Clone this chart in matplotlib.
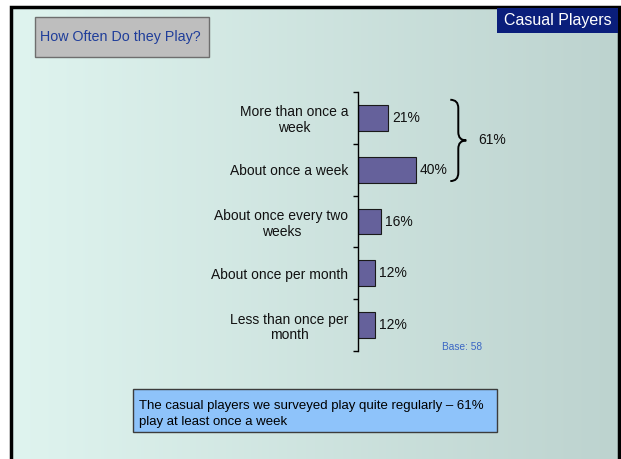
import numpy as np
import matplotlib
matplotlib.use("Agg")
import matplotlib.pyplot as plt
from matplotlib.patches import Rectangle, PathPatch
from matplotlib.path import Path

# ── data ──────────────────────────────────────────────────────────────────────
categories = [
    "More than once a\nweek",
    "About once a week",
    "About once every two\nweeks",
    "About once per month",
    "Less than once per\nmonth",
]
values = [21, 40, 16, 12, 12]
base_n = 58
title = "How Often Do they Play?"
tag = "Casual Players"

weekly_total = values[0] + values[1]
summary = (f"The casual players we surveyed play quite regularly \u2013 {weekly_total}%\n"
           "play at least once a week")

FONT = ["Liberation Sans", "DejaVu Sans"]
plt.rcParams["font.family"] = FONT

W, H = 621, 459
fig = plt.figure(figsize=(W / 100, H / 100), dpi=100)
fig.patch.set_facecolor("white")

# ── slide background (pixel coordinates) ───────────────────────────────────────
bg = fig.add_axes([0, 0, 1, 1])
bg.set_xlim(0, W)
bg.set_ylim(H, 0)
bg.set_axis_off()

c_left = np.array([223, 244, 239]) / 255
c_right = np.array([189, 211, 207]) / 255
t = np.linspace(0, 1, 256)
grad = c_left[None, :] * (1 - t[:, None]) + c_right[None, :] * t[:, None]
bg.imshow(grad[None, :, :], aspect="auto", extent=[11, 619, H, 7], zorder=0)

# black frame: left, top, right
bg.plot([11, 11, 619, 619], [H, 7, 7, H], color="black", lw=2.5,
        solid_joinstyle="miter", zorder=1)

# title box
bg.add_patch(Rectangle((35, 17), 174, 40, fc="#BEBEBE", ec="#6E6E6E", lw=1, zorder=2))
bg.text(40, 37.5, title, color="#1F3D9A", fontsize=10.3, va="center", ha="left", zorder=3)

# tag box top right
bg.add_patch(Rectangle((497, 8), 121, 25, fc="#0A1E7B", ec="none", zorder=2))
bg.text(558, 21, tag, color="white", fontsize=11.5, va="center", ha="center", zorder=3)

# summary box
bg.add_patch(Rectangle((133, 389), 364, 43, fc="#8EC3FA", ec="#3C3C3C", lw=1, zorder=2))
bg.text(139, 414, summary, color="black", fontsize=9.5, va="center", ha="left",
        linespacing=1.45, zorder=3)

# ── bar chart ─────────────────────────────────────────────────────────────────
px_per_unit = 1.44
ax = fig.add_axes([358 / W, 1 - 351 / H, 100 * px_per_unit / W, 259 / H])
ax.patch.set_visible(False)

pos = np.arange(len(values))
ax.barh(pos, values, height=0.5, color="#65619B", edgecolor="#1A1A1A", lw=0.8)
ax.set_ylim(len(values) - 0.5, -0.5)
ax.set_xlim(0, 100)

for s in ["top", "right", "bottom"]:
    ax.spines[s].set_visible(False)
ax.spines["left"].set_color("black")
ax.spines["left"].set_linewidth(1)

ax.set_xticks([])
ax.set_yticks(pos, categories, fontsize=10, color="#111111")
ax.set_yticks(np.arange(len(values) + 1) - 0.5, minor=True)
ax.tick_params(axis="y", which="major", length=0, pad=7)
ax.tick_params(axis="y", which="minor", length=3.5, width=1, direction="out")
for lbl in ax.get_yticklabels():
    lbl.set_multialignment("center")
    lbl.set_linespacing(1.15)

for i, v in enumerate(values):
    ax.text(v + 2.7, i, f"{v}%", va="center", ha="left", fontsize=10, color="#111111")

# brace around the first two bars
x0, xt = 64.1, 75.2
y_top, y_bot = -0.35, 1.22
y_mid = (y_top + y_bot) / 2
xm = (x0 + xt) / 2
r = 0.16
verts = [
    (x0, y_top), (xm, y_top), (xm, y_top + r),
    (xm, y_mid - r), (xm, y_mid), (xt, y_mid),
    (xm, y_mid), (xm, y_mid + r),
    (xm, y_bot - r), (xm, y_bot), (x0, y_bot),
]
codes = [Path.MOVETO, Path.CURVE3, Path.CURVE3,
         Path.LINETO, Path.CURVE3, Path.CURVE3,
         Path.CURVE3, Path.CURVE3,
         Path.LINETO, Path.CURVE3, Path.CURVE3]
ax.add_patch(PathPatch(Path(verts, codes), fc="none", ec="black", lw=1.4, clip_on=False))
ax.text(83.4, y_mid, f"{weekly_total}%", va="center", ha="left", fontsize=10,
        color="#111111", clip_on=False)

ax.text(58.6, 4.42, f"Base: {base_n}", va="center", ha="left", fontsize=7.3,
        color="#3A66C4", clip_on=False)

fig.savefig("out.png", dpi=100)
